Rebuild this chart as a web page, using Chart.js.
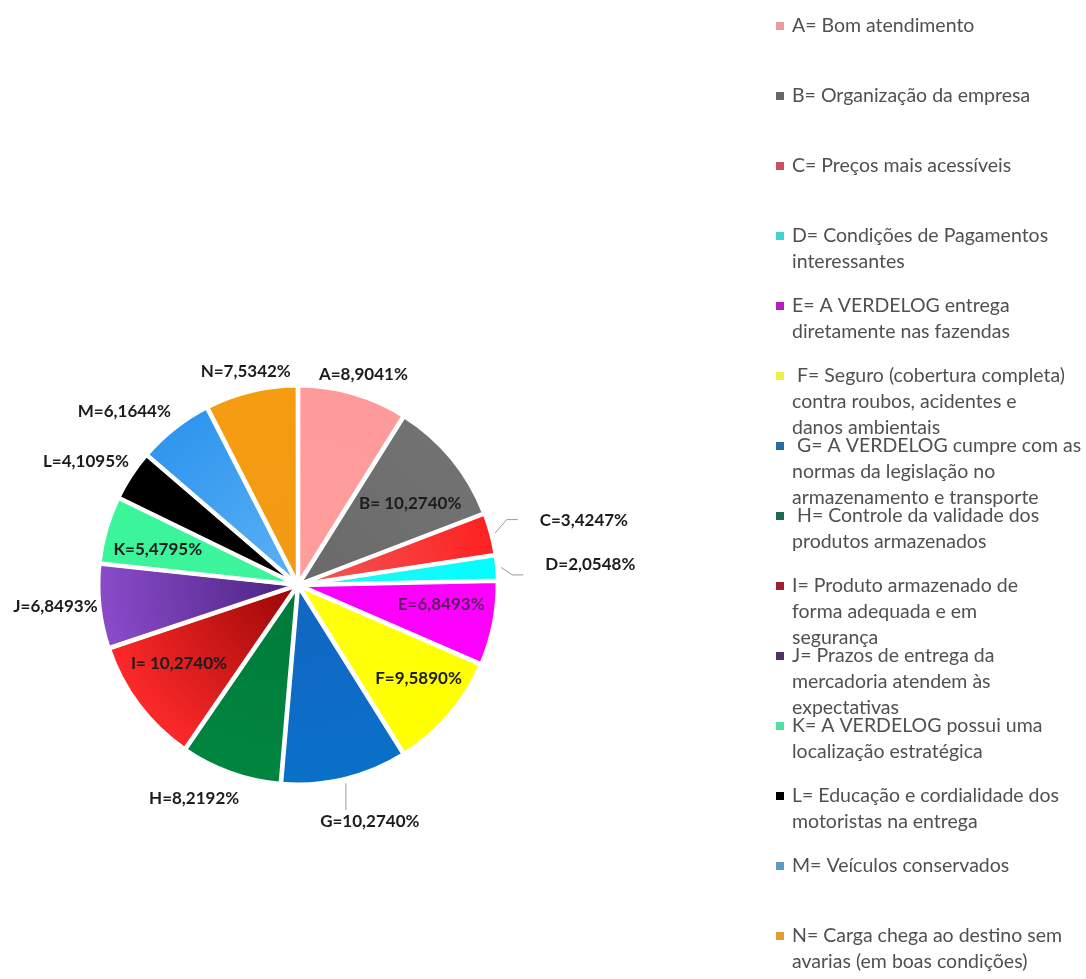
<!DOCTYPE html>
<html>
<head>
<meta charset="utf-8">
<title>Atributos VERDELOG</title>
<script src="https://cdn.jsdelivr.net/npm/chart.js@4.4.1/dist/chart.umd.min.js"></script>
<style>
  html, body { margin: 0; padding: 0; background: #ffffff; }
  #wrap { width: 1086px; height: 979px; }
</style>
</head>
<body>
<div id="wrap"><canvas id="pie" width="1086" height="979"></canvas></div>
<script>
// attribute letters and their share of answers (%)
const letters = ['A', 'B', 'C', 'D', 'E', 'F', 'G', 'H', 'I', 'J', 'K', 'L', 'M', 'N'];
const shares = [8.9041, 10.2740, 3.4247, 2.0548, 6.8493, 9.5890, 10.2740,
                8.2192, 10.2740, 6.8493, 5.4795, 4.1095, 6.1644, 7.5342];

// legend descriptions, already broken into lines
const legendLines = [
    ['A= Bom atendimento'],
    ['B= Organização da empresa'],
    ['C= Preços mais acessíveis'],
    ['D= Condições de Pagamentos', 'interessantes'],
    ['E= A VERDELOG entrega', 'diretamente nas fazendas'],
    [' F= Seguro (cobertura completa)', 'contra roubos, acidentes e', 'danos ambientais'],
    [' G= A VERDELOG cumpre com as', 'normas da legislação no', 'armazenamento e transporte'],
    [' H= Controle da validade dos', 'produtos armazenados'],
    ['I= Produto armazenado de', 'forma adequada e em', 'segurança'],
    ['J= Prazos de entrega da', 'mercadoria atendem às', 'expectativas'],
    ['K= A VERDELOG possui uma', 'localização estratégica'],
    ['L= Educação e cordialidade dos', 'motoristas na entrega'],
    ['M= Veículos conservados'],
    ['N= Carga chega ao destino sem', 'avarias (em boas condições)']
];

// slice colours: centre and rim of each radial shade
const innerColors = ['#ff9e9e', '#6a6a6a', '#f05a5a', '#2af2f2', '#fa00fa', '#ffff10', '#1266c2',
                     '#007a3a', '#9a0606', '#4a2380', '#3ff49c', '#000000', '#5cb2f5', '#f29a14'];
const outerColors = ['#ff9a9a', '#727272', '#ff2020', '#00ffff', '#ff00ff', '#ffff00', '#0a70c8',
                     '#008640', '#ff2a2a', '#8c4ccc', '#3af59a', '#000000', '#2e95ee', '#f59c12'];
const legendColors = ['#e89c9c', '#666666', '#c9505c', '#3fd2d2', '#b81cc0', '#eef04a', '#23709e',
                      '#1f6a4e', '#a21e30', '#4e3070', '#52dea0', '#000000', '#5c9cc2', '#e09e32'];

// where each value label sits: share of the radius and a turn off the slice middle (deg)
const labelRadius = [1.115, 0.70, 1.48, 1.48, 0.73, 0.77, 1.25, 1.20, 0.72, 1.23, 0.73, 1.24, 1.24, 1.11];
const labelTurn = [1.2, 3.5, 2.1, 1.0, -3.2, -2.9, -3.3, 6.2, 3.6, 1.1, -2.0, -3.0, -6.8, -0.2];
const spacedLabels = ['B', 'I'];

function labelText(i) {
    let sep = spacedLabels.includes(letters[i]) ? '= ' : '=';
    return letters[i] + sep + shares[i].toFixed(4).replace('.', ',') + '%';
}

function sliceFill(context) {
    let i = context.dataIndex;
    let area = context.chart.chartArea;
    if (!area) {
        return outerColors[i];
    }
    let cx = (area.left + area.right) / 2;
    let cy = (area.top + area.bottom) / 2;
    let r = Math.min(area.width, area.height) / 2;
    let grad = context.chart.ctx.createRadialGradient(cx, cy, 0, cx, cy, r);
    grad.addColorStop(0, innerColors[i]);
    grad.addColorStop(1, outerColors[i]);
    return grad;
}

// value labels, with thin leader lines for C, D and G
const sliceLabels = {
    id: 'sliceLabels',
    afterDatasetsDraw(chart) {
        const ctx = chart.ctx;
        const meta = chart.getDatasetMeta(0);
        ctx.save();
        ctx.font = 'bold 17px Lato';
        ctx.textAlign = 'center';
        ctx.textBaseline = 'middle';
        meta.data.forEach(function(arc, i) {
            let p = arc.getProps(['x', 'y', 'startAngle', 'endAngle', 'outerRadius'], true);
            let mid = (p.startAngle + p.endAngle) / 2;
            let a = mid + labelTurn[i] * Math.PI / 180;
            let r = p.outerRadius * labelRadius[i];
            let lx = p.x + Math.cos(a) * r;
            let ly = p.y + Math.sin(a) * r;
            let text = labelText(i);
            let w = ctx.measureText(text).width;

            ctx.strokeStyle = '#9a9a9a';
            ctx.lineWidth = 1;
            let ex = p.x + Math.cos(mid) * (p.outerRadius + 6);
            let ey = p.y + Math.sin(mid) * (p.outerRadius + 6);
            if (letters[i] === 'C' || letters[i] === 'D') {
                let endX = lx - w / 2 - 22;
                let endY = letters[i] === 'C' ? ly - 1 : ly + 10;
                ctx.beginPath();
                ctx.moveTo(ex, ey);
                ctx.lineTo(endX - 11, endY);
                ctx.lineTo(endX, endY);
                ctx.stroke();
            } else if (letters[i] === 'G') {
                ctx.beginPath();
                ctx.moveTo(ex, ey);
                ctx.lineTo(ex, ly - 12);
                ctx.stroke();
            }

            ctx.fillStyle = letters[i] === 'E' ? '#5e1868' : '#1c1c1c';
            ctx.fillText(text, lx, ly);
        });
        ctx.restore();
    }
};

// legend column on the right: fixed pitch per entry, wrapped lines
const sideLegend = {
    id: 'sideLegend',
    afterDraw(chart) {
        const ctx = chart.ctx;
        ctx.save();
        ctx.font = '19.5px Lato';
        ctx.textAlign = 'left';
        ctx.textBaseline = 'middle';
        for (let i = 0; i < legendLines.length; i++) {
            let top = 26 + i * 70;
            ctx.fillStyle = legendColors[i];
            ctx.fillRect(776, top - 4, 8, 8);
            ctx.fillStyle = '#505050';
            for (let k = 0; k < legendLines[i].length; k++) {
                ctx.fillText(legendLines[i][k], 792, top + k * 26);
            }
        }
        ctx.restore();
    }
};

const data = {
    labels: letters,
    datasets: [{
        data: shares,
        backgroundColor: sliceFill,
        borderColor: '#ffffff',
        borderWidth: 4,
        offset: 4
    }]
};

const config = {
    type: 'pie',
    data: data,
    options: {
        responsive: false,
        animation: false,
        events: [],
        layout: {
            padding: { left: 96, top: 383, right: 586, bottom: 192 }
        },
        plugins: {
            legend: { display: false },
            tooltip: { enabled: false }
        }
    },
    plugins: [sliceLabels, sideLegend]
};

const pieChart = new Chart(document.getElementById('pie'), config);
</script>
</body>
</html>
